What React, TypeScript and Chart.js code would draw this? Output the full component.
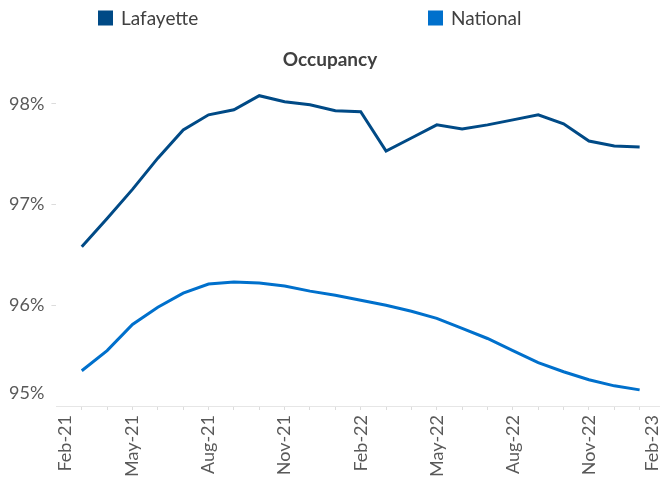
import React, { useEffect, useRef } from 'react';
import { Chart, registerables } from 'chart.js';

Chart.register(...registerables);

// ---------- data ----------
const months = [
  'Feb-21', 'Mar-21', 'Apr-21', 'May-21', 'Jun-21', 'Jul-21', 'Aug-21', 'Sep-21', 'Oct-21', 'Nov-21', 'Dec-21', 'Jan-22',
  'Feb-22', 'Mar-22', 'Apr-22', 'May-22', 'Jun-22', 'Jul-22', 'Aug-22', 'Sep-22', 'Oct-22', 'Nov-22', 'Dec-22', 'Jan-23',
  'Feb-23',
];
const seriesStart = 'Mar-21';
const lafayette = [
  96.58, 96.86, 97.15, 97.46, 97.74, 97.89, 97.94, 98.08, 98.02, 97.99, 97.93, 97.92,
  97.53, 97.66, 97.79, 97.75, 97.79, 97.84, 97.89, 97.8, 97.63, 97.58, 97.57,
];
const national = [
  95.35, 95.55, 95.81, 95.98, 96.12, 96.21, 96.23, 96.22, 96.19, 96.14, 96.1, 96.05,
  96.0, 95.94, 95.87, 95.77, 95.67, 95.55, 95.43, 95.34, 95.26, 95.2, 95.16,
];
const yTicks = [95, 96, 97, 98];
const seriesNames = ['Lafayette', 'National'];
const titleText = 'Occupancy';

// ---------- styles ----------
const COLORS = ['#004A86', '#0070CC'];
const FONT = 'Lato, "Liberation Sans", sans-serif';
const TEXT = '#404040';
const TICK_TEXT = '#595959';

const startIdx = months.indexOf(seriesStart);
const toPoints = (arr: number[]) => arr.map((v, i) => ({ x: startIdx + i, y: v }));

const headerPlugin = {
  id: 'header',
  afterDraw(chart: any) {
    const { ctx } = chart;
    ctx.save();
    ctx.fillStyle = TEXT;
    ctx.font = `bold 19px ${FONT}`;
    ctx.textAlign = 'center';
    ctx.textBaseline = 'alphabetic';
    ctx.fillText(titleText, 330, 65.5);

    const legendX = [98, 428];
    ctx.font = `19px ${FONT}`;
    ctx.textAlign = 'left';
    chart.data.datasets.forEach((ds: any, i: number) => {
      const x = legendX[i];
      ctx.fillStyle = ds.borderColor;
      ctx.fillRect(x, 10.5, 15, 15);
      ctx.fillStyle = TEXT;
      ctx.fillText(ds.label, x + 23, 24.5);
    });
    ctx.restore();
  },
};

export default function App() {
  const ref = useRef<HTMLCanvasElement | null>(null);

  useEffect(() => {
    if (!ref.current) return;
    const last = months.length - 1;
    const chart = new Chart(ref.current, {
      type: 'line',
      data: {
        datasets: [
          {
            label: seriesNames[0],
            data: toPoints(lafayette),
            borderColor: COLORS[0],
            backgroundColor: COLORS[0],
            borderWidth: 3,
            pointRadius: 0,
            tension: 0,
          },
          {
            label: seriesNames[1],
            data: toPoints(national),
            borderColor: COLORS[1],
            backgroundColor: COLORS[1],
            borderWidth: 3,
            pointRadius: 0,
            tension: 0,
          },
        ],
      },
      options: {
        responsive: false,
        animation: false,
        layout: { padding: { top: 73.5, left: 0, right: 0, bottom: 0 } },
        plugins: {
          legend: { display: false },
          title: { display: false },
          tooltip: { enabled: false },
        },
        scales: {
          x: {
            type: 'linear',
            min: 0,
            max: last,
            afterBuildTicks: (s: any) => {
              s.ticks = months.map((_, i) => ({
                value: i === 0 ? 0.35 : i === last ? last - 0.5 : i,
              }));
            },
            afterFit: (s: any) => {
              s.height = 74;
              s.paddingLeft = 0;
              s.paddingRight = 0;
            },
            grid: {
              drawOnChartArea: false,
              drawTicks: true,
              tickLength: 4,
              tickColor: (c: any) =>
                c.tick && Number.isInteger(c.tick.value) ? '#dcdcdc' : 'rgba(0,0,0,0)',
            },
            border: { display: true, color: '#e6e6e6', width: 1 },
            ticks: {
              autoSkip: false,
              minRotation: 90,
              maxRotation: 90,
              padding: 5,
              color: TICK_TEXT,
              font: { family: FONT, size: 18 },
              callback: (v: any) => {
                const i = Math.round(Number(v));
                return i % 3 === 0 ? months[i] : '';
              },
            },
          },
          y: {
            type: 'linear',
            min: 95,
            max: 98.3,
            afterBuildTicks: (s: any) => {
              s.ticks = yTicks.map((v, i) => ({ value: i === 0 ? v + 0.13 : v }));
            },
            afterFit: (s: any) => {
              s.width = 56.4;
              s.paddingTop = 0;
              s.paddingBottom = 0;
            },
            grid: {
              drawOnChartArea: false,
              drawTicks: true,
              tickLength: 5,
              tickColor: (c: any) =>
                c.tick && Number.isInteger(c.tick.value) ? '#dcdcdc' : 'rgba(0,0,0,0)',
            },
            border: { display: false },
            ticks: {
              padding: 7,
              color: TICK_TEXT,
              font: { family: FONT, size: 18 },
              callback: (v: any) => `${Math.round(Number(v))}%`,
            },
          },
        },
      },
      plugins: [headerPlugin],
    } as any);
    return () => chart.destroy();
  }, []);

  return (
    <div
      style={{
        position: 'absolute',
        left: 0,
        top: 0,
        width: 660,
        height: 480,
        overflow: 'hidden',
        background: '#ffffff',
      }}
    >
      <canvas ref={ref} width={665} height={480} style={{ display: 'block' }} />
    </div>
  );
}
